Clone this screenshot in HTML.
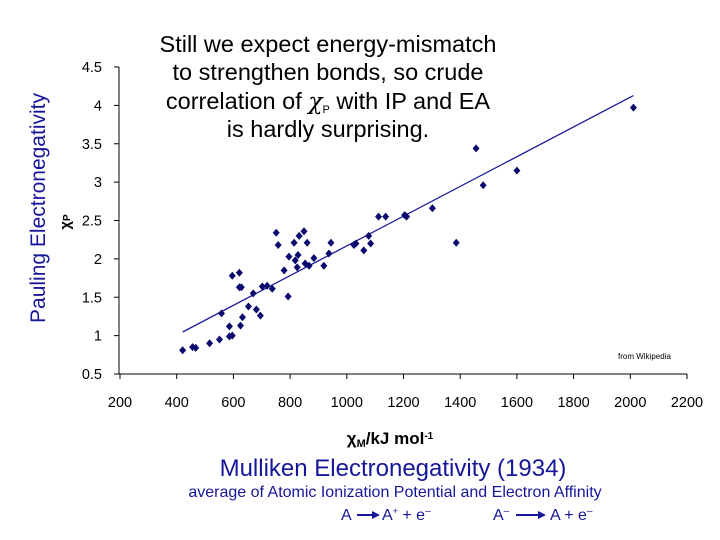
<!DOCTYPE html>
<html><head><meta charset="utf-8"><style>
body{margin:0;background:#fff;}
svg{display:block;font-family:"Liberation Sans",Arial,sans-serif;}
</style></head><body>
<svg id="chart" width="720" height="540" viewBox="0 0 720 540" xmlns="http://www.w3.org/2000/svg">
<g font-size="23.5" fill="#000" text-anchor="middle">
<text x="328" y="52">Still we expect energy-mismatch</text>
<text x="328" y="80">to strengthen bonds, so crude</text>
<text x="328" y="109">correlation of <tspan font-family="'DejaVu Serif',serif" font-style="italic">χ</tspan><tspan font-size="11" dy="4">P</tspan><tspan dy="-4"> with IP and EA</tspan></text>
<text x="328" y="137">is hardly surprising.</text>
</g>
<text transform="translate(45,208) rotate(-90)" text-anchor="middle" font-size="21" fill="#16169a">Pauling Electronegativity</text>
<text transform="translate(70,222) rotate(-90)" text-anchor="middle" font-size="15" font-weight="bold" fill="#000">χ<tspan font-size="10">P</tspan></text>
<text x="618" y="359" font-size="8" fill="#000">from Wikipedia</text>
<g id="axes"></g>
<g id="marks"></g>
<text x="390" y="444" text-anchor="middle" font-size="17" font-weight="bold" fill="#000">χ<tspan font-size="11" dy="3">M</tspan><tspan dy="-3">/kJ mol</tspan><tspan font-size="10" dy="-5">-1</tspan></text>
<text x="393" y="476" text-anchor="middle" font-size="24" fill="#16169a">Mulliken Electronegativity (1934)</text>
<text x="395" y="497" text-anchor="middle" font-size="16" fill="#16169a">average of Atomic Ionization Potential and Electron Affinity</text>
<g font-size="16" fill="#16169a">
<text x="341" y="520">A</text>
<line x1="357" y1="515" x2="372" y2="515" stroke="#16169a" stroke-width="2"/><polygon points="372,511 380,515 372,519" fill="#16169a"/>
<text x="382" y="520">A<tspan font-size="9" dy="-6">+</tspan><tspan dy="6"> + e</tspan><tspan font-size="10" dy="-6">–</tspan></text>
<text x="493" y="520">A<tspan font-size="10" dy="-6">–</tspan></text>
<line x1="516" y1="515" x2="538" y2="515" stroke="#16169a" stroke-width="2"/><polygon points="538,511 546,515 538,519" fill="#16169a"/>
<text x="550" y="520">A + e<tspan font-size="10" dy="-6">–</tspan></text>
</g>
</svg>
<script>
const xData=[421,456,467,516,551,586,596,586,625,632,558,653,681,695,670,702,719,737,621,628,596,621,793,779,796,828,818,825,853,867,884,919,937,814,860,944,751,758,832,849,1025,1032,1060,1077,1084,1112,1137,1204,1211,1302,1386,1456,1481,1600,2011];
const yData=[0.81,0.85,0.84,0.90,0.95,0.99,1.00,1.12,1.13,1.24,1.29,1.38,1.34,1.26,1.55,1.64,1.65,1.61,1.63,1.63,1.78,1.82,1.51,1.85,2.03,2.05,1.98,1.89,1.94,1.91,2.01,1.91,2.07,2.21,2.21,2.21,2.34,2.18,2.30,2.36,2.18,2.20,2.11,2.30,2.20,2.55,2.55,2.57,2.55,2.66,2.21,3.44,2.96,3.15,3.97];
const xTicks=[200,400,600,800,1000,1200,1400,1600,1800,2000,2200];
const yTicks=[0.5,1,1.5,2,2.5,3,3.5,4,4.5];
const NS="http://www.w3.org/2000/svg";
const X0=120,X1=687,Y0=374,Y1=67;
function sx(v){return X0+(v-200)/2000*(X1-X0);}
function sy(v){return Y0-(v-0.5)/4*(Y0-Y1);}
function mk(t,a,p){const e=document.createElementNS(NS,t);for(const k in a)e.setAttribute(k,a[k]);p.appendChild(e);return e;}
const axes=document.getElementById('axes'),marks=document.getElementById('marks');
const ya=mk('line',{x1:119,y1:Y1,x2:119,y2:Y0,stroke:'#000','stroke-width':1},axes);


const xa=mk('line',{x1:119,y1:Y0,x2:X1,y2:Y0,stroke:'#000','stroke-width':1},axes);


yTicks.forEach(v=>{
 const y=sy(v);
 const t=mk('line',{x1:114,y1:y,x2:119,y2:y,stroke:'#000'},axes);
 
 
 const l=mk('text',{x:102,y:y+5,'text-anchor':'end','font-size':14.5,fill:'#000'},axes);
 l.textContent=String(v);
 
 
});
xTicks.forEach(v=>{
 const x=sx(v);
 const t=mk('line',{x1:x,y1:Y0,x2:x,y2:Y0+5,stroke:'#000'},axes);
 
 
 const l=mk('text',{x:x,y:407,'text-anchor':'middle','font-size':14.5,fill:'#000'},axes);
 l.textContent=String(v);
 
 
});
const n=xData.length;let mx=0,my=0;for(let i=0;i<n;i++){mx+=xData[i];my+=yData[i];}mx/=n;my/=n;
let sxy=0,sxx=0;for(let i=0;i<n;i++){sxy+=(xData[i]-mx)*(yData[i]-my);sxx+=(xData[i]-mx)**2;}
const b=sxy/sxx,a=my-b*mx;const xmin=Math.min(...xData),xmax=Math.max(...xData);
const tl=mk('line',{x1:sx(xmin),y1:sy(a+b*xmin),x2:sx(xmax),y2:sy(a+b*xmax),stroke:'#1a1a9a','stroke-width':1.3},marks);


for(let i=0;i<n;i++){
 const x=sx(xData[i]),y=sy(yData[i]);
 const p=mk('polygon',{points:`${x},${y-4} ${x+3.5},${y} ${x},${y+4} ${x-3.5},${y}`,fill:'#0a0a6e'},marks);
 
 
}
</script>
</body></html>
